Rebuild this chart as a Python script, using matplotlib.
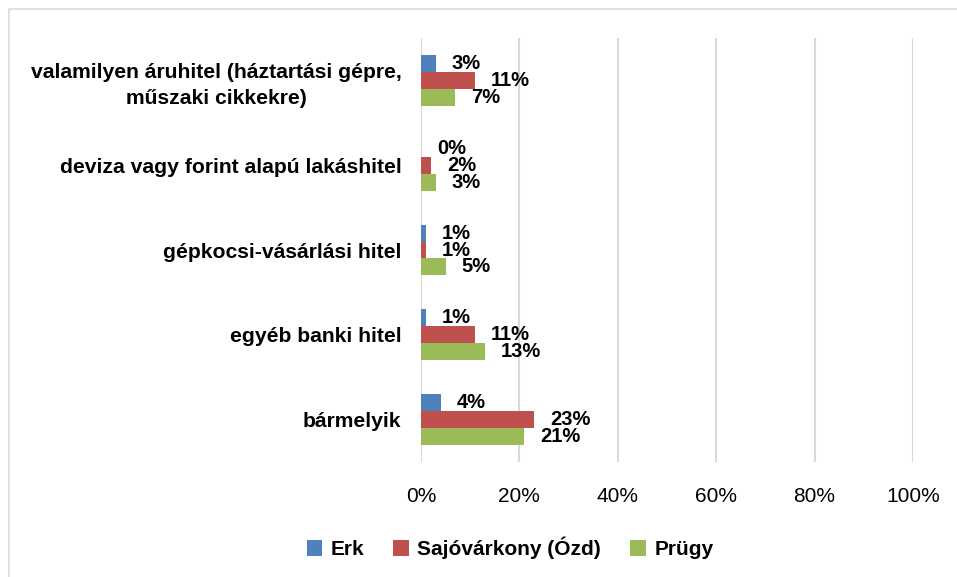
import matplotlib.pyplot as plt
from matplotlib.patches import Rectangle
import numpy as np

plt.rcParams['font.family'] = ['Liberation Sans', 'DejaVu Sans']

categories = ['valamilyen áruhitel (háztartási gépre,\nműszaki cikkekre)',
              'deviza vagy forint alapú lakáshitel',
              'gépkocsi-vásárlási hitel',
              'egyéb banki hitel',
              'bármelyik']
series = ['Erk', 'Sajóvárkony (Ózd)', 'Prügy']
erk = [3, 0, 1, 1, 4]
sajo = [11, 2, 1, 11, 23]
prugy = [7, 3, 5, 13, 21]
colors = ['#4F81BD', '#C0504D', '#9BBB59']

W, H = 957, 577
fig = plt.figure(figsize=(W / 100, H / 100), dpi=100)
ax = fig.add_axes([421 / W, 1 - 462 / H, 492 / W, 424 / H])

y = np.arange(len(categories))[::-1]
h = 0.2
for i, (vals, col) in enumerate(zip([erk, sajo, prugy], colors)):
    pos = y + h - i * h
    ax.barh(pos, vals, height=h, color=col, label=series[i], zorder=3)
    for p, v in zip(pos, vals):
        ax.annotate(f'{v}%', (v, p), xytext=(11.5, 0), textcoords='offset points',
                    ha='left', va='center', fontsize=14.5, fontweight='bold', zorder=4)

ax.set_xlim(0, 100)
ax.set_ylim(-0.5, 4.5)
ax.set_xticks(range(0, 101, 20))
ax.set_xticklabels([f'{t}%' for t in range(0, 101, 20)], fontsize=15)
ax.set_yticks(y)
ax.set_yticklabels(categories, fontsize=15.2, fontweight='bold',
                   multialignment='center', linespacing=1.45)
ax.tick_params(axis='both', length=0)
ax.tick_params(axis='x', pad=18)
ax.tick_params(axis='y', pad=14)
ax.grid(axis='x', color='#D9D9D9', linewidth=1.5, zorder=0)
for s in ax.spines.values():
    s.set_visible(False)

fig.legend(loc='center', bbox_to_anchor=(510 / W, 1 - 548 / H), ncol=3, frameon=False,
           prop={'weight': 'bold', 'size': 15}, handlelength=0.75, handleheight=0.75,
           handletextpad=0.4, columnspacing=1.4)

fig.patches.append(Rectangle((9 / W, -0.1), 1.1, 1.1 - 9 / H, transform=fig.transFigure,
                             fill=False, edgecolor='#D9D9D9', linewidth=1.2))

fig.savefig('out.png', dpi=100)
